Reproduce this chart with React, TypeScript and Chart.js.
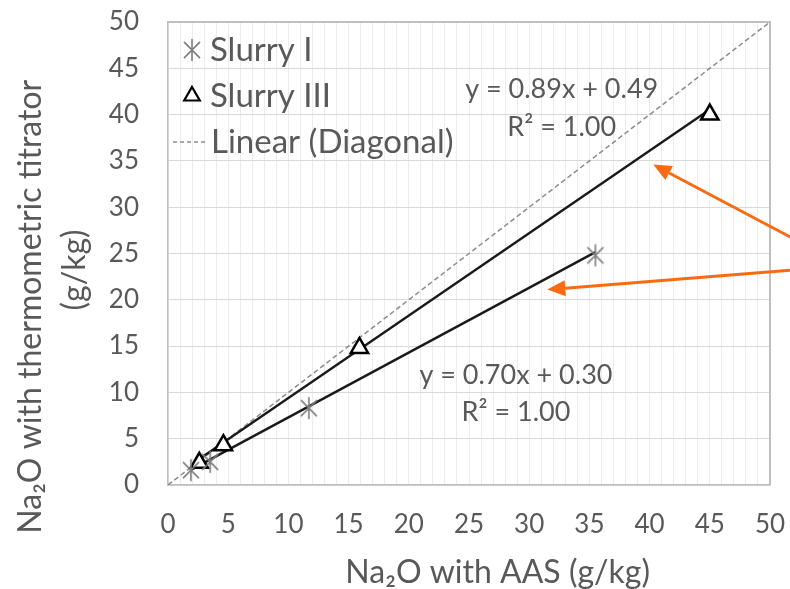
import React, { useEffect, useRef } from "react";
import { Chart, registerables } from "chart.js";

Chart.register(...registerables);

// ---------- data ----------
const slurry1X = [1.9, 3.5, 11.7, 35.5];
const slurry1Y = [1.6, 2.5, 8.3, 24.8];
const slurry3X = [2.6, 4.6, 15.9, 45.0];
const slurry3Y = [2.4, 4.3, 14.8, 40.0];
const diagonalX = [0, 50];
const diagonalY = [0, 50];
const fitSlopes = [0.7, 0.89]; // Slurry I, Slurry III
const fitIntercepts = [0.3, 0.49];
const seriesLabels = ["Slurry I", "Slurry III", "Linear (Diagonal)"];
const equationTexts = ["y = 0.70x + 0.30", "y = 0.89x + 0.49"];
const r2Texts = ["R² = 1.00", "R² = 1.00"];
const xTickLabels = ["0", "5", "10", "15", "20", "25", "30", "35", "40", "45", "50"];
const yTickLabels = ["0", "5", "10", "15", "20", "25", "30", "35", "40", "45", "50"];
const xTitle = "       Na₂O with AAS (g/kg)";
const yTitle = ["Na₂O with thermometric titrator             ", "(g/kg)    "];

// annotation anchors (data units)
const equationAnchorX = [28.9, 32.7];
const equationAnchorY = [11.9, 42.7];
const r2AnchorY = [7.9, 38.6];
const arrowTipX = [40.3, 31.5];
const arrowTipY = [34.6, 21.1];
const arrowTailX = [51.8, 51.8];
const arrowTailY = [26.7, 23.2];

const TEXT = "#595959";
const FONT = "Lato";

function makeAsterisk(size: number, color: string) {
  const c = document.createElement("canvas");
  c.width = size;
  c.height = size;
  const g = c.getContext("2d")!;
  const m = size / 2;
  const r = size / 2 - 1.5;
  g.strokeStyle = color;
  g.lineWidth = 1.6;
  g.lineCap = "round";
  g.beginPath();
  g.moveTo(m, m - r);
  g.lineTo(m, m + r);
  const d = r * 0.72;
  g.moveTo(m - d, m - d);
  g.lineTo(m + d, m + d);
  g.moveTo(m + d, m - d);
  g.lineTo(m - d, m + d);
  g.stroke();
  return c;
}

function fitLine(xs: number[], slope: number, intercept: number) {
  const lo = Math.min(...xs);
  const hi = Math.max(...xs);
  return [
    { x: lo, y: slope * lo + intercept },
    { x: hi, y: slope * hi + intercept },
  ];
}

export default function App() {
  const ref = useRef<HTMLCanvasElement | null>(null);

  useEffect(() => {
    if (!ref.current) return;
    const asterisk = makeAsterisk(24, "#7f7f7f");

    const boxPlugin = {
      id: "box",
      afterDatasetsDraw(chart: any) {
        const { ctx, chartArea: a } = chart;
        ctx.save();
        ctx.strokeStyle = "#bfbfbf";
        ctx.lineWidth = 2;
        ctx.beginPath();
        ctx.moveTo(a.left, a.top);
        ctx.lineTo(a.right, a.top);
        ctx.lineTo(a.right, a.bottom);
        ctx.stroke();
        ctx.restore();
      },
    };

    const annotPlugin = {
      id: "annot",
      afterDraw(chart: any) {
        const { ctx, chartArea: a } = chart;
        const xs = chart.scales.x;
        const ys = chart.scales.y;
        ctx.save();
        // equations
        ctx.fillStyle = TEXT;
        ctx.font = `27px ${FONT}`;
        ctx.textAlign = "center";
        ctx.textBaseline = "middle";
        for (let i = 0; i < equationTexts.length; i++) {
          const px = xs.getPixelForValue(equationAnchorX[i]);
          ctx.fillText(equationTexts[i], px, ys.getPixelForValue(equationAnchorY[i]));
          ctx.fillText(r2Texts[i], px, ys.getPixelForValue(r2AnchorY[i]));
        }
        // legend
        const mx = a.left + 24;
        const tx = a.left + 42;
        const rows = [a.top + 28, a.top + 74, a.top + 120];
        ctx.font = `33px ${FONT}`;
        ctx.textAlign = "left";
        ctx.drawImage(asterisk, mx - 12, rows[0] - 12);
        ctx.fillText(seriesLabels[0], tx, rows[0]);
        ctx.beginPath();
        const r = 9;
        ctx.moveTo(mx, rows[1] - r);
        ctx.lineTo(mx + r * 0.866, rows[1] + r * 0.5);
        ctx.lineTo(mx - r * 0.866, rows[1] + r * 0.5);
        ctx.closePath();
        ctx.fillStyle = "#fff";
        ctx.fill();
        ctx.strokeStyle = "#000";
        ctx.lineWidth = 2.2;
        ctx.stroke();
        ctx.fillStyle = TEXT;
        ctx.fillText(seriesLabels[1], tx, rows[1]);
        ctx.beginPath();
        ctx.setLineDash([4, 3]);
        ctx.strokeStyle = "#8c8c8c";
        ctx.lineWidth = 1.5;
        ctx.moveTo(mx - 19, rows[2]);
        ctx.lineTo(mx + 15, rows[2]);
        ctx.stroke();
        ctx.setLineDash([]);
        ctx.fillText(seriesLabels[2], tx + 1, rows[2]);
        // arrows
        ctx.strokeStyle = "#f96b12";
        ctx.fillStyle = "#f96b12";
        ctx.lineWidth = 3;
        for (let i = 0; i < arrowTipX.length; i++) {
          const x1 = xs.getPixelForValue(arrowTailX[i]);
          const y1 = ys.getPixelForValue(arrowTailY[i]);
          const x2 = xs.getPixelForValue(arrowTipX[i]);
          const y2 = ys.getPixelForValue(arrowTipY[i]);
          const ang = Math.atan2(y2 - y1, x2 - x1);
          const hl = 18;
          const hw = 8;
          const bx = x2 - Math.cos(ang) * hl;
          const by = y2 - Math.sin(ang) * hl;
          ctx.beginPath();
          ctx.moveTo(x1, y1);
          ctx.lineTo(bx, by);
          ctx.stroke();
          ctx.beginPath();
          ctx.moveTo(x2, y2);
          ctx.lineTo(bx + Math.sin(ang) * hw, by - Math.cos(ang) * hw);
          ctx.lineTo(bx - Math.sin(ang) * hw, by + Math.cos(ang) * hw);
          ctx.closePath();
          ctx.fill();
        }
        ctx.restore();
      },
    };

    const chart = new Chart(ref.current, {
      type: "scatter",
      data: {
        datasets: [
          {
            label: seriesLabels[0],
            data: slurry1X.map((x, i) => ({ x, y: slurry1Y[i] })),
            pointStyle: asterisk,
            pointRadius: 12,
            order: 0,
          },
          {
            label: seriesLabels[1],
            data: slurry3X.map((x, i) => ({ x, y: slurry3Y[i] })),
            pointStyle: "triangle",
            pointRadius: 10,
            borderWidth: 2.5,
            borderColor: "#000",
            backgroundColor: "#fff",
            order: 0,
          },
          {
            type: "line",
            label: "fit I",
            data: fitLine(slurry1X, fitSlopes[0], fitIntercepts[0]),
            borderColor: "#1a1a1a",
            borderWidth: 2.4,
            pointRadius: 0,
            order: 1,
          },
          {
            type: "line",
            label: "fit III",
            data: fitLine(slurry3X, fitSlopes[1], fitIntercepts[1]),
            borderColor: "#1a1a1a",
            borderWidth: 2.4,
            pointRadius: 0,
            order: 1,
          },
          {
            type: "line",
            label: seriesLabels[2],
            data: diagonalX.map((x, i) => ({ x, y: diagonalY[i] })),
            borderColor: "#8c8c8c",
            borderWidth: 1.5,
            borderDash: [5, 3],
            pointRadius: 0,
            order: 2,
          },
        ] as any,
      },
      options: {
        responsive: false,
        animation: false,
        devicePixelRatio: 1,
        layout: { padding: { top: 22, right: 20, left: 0, bottom: 0 } },
        plugins: { legend: { display: false }, tooltip: { enabled: false } },
        scales: {
          x: {
            type: "linear",
            min: 0,
            max: 50,
            afterBuildTicks: (axis: any) => {
              const t = [];
              for (let v = 0; v <= 50; v++) t.push({ value: v });
              axis.ticks = t;
            },
            afterFit: (axis: any) => {
              axis.height = 104;
              axis.paddingLeft = 0;
              axis.paddingRight = 0;
            },
            ticks: {
              autoSkip: false,
              maxRotation: 0,
              padding: 24,
              color: TEXT,
              font: { family: FONT, size: 26 },
              callback: (v: any) => (v % 5 === 0 ? xTickLabels[v / 5] : ""),
            },
            grid: { color: "#ececec", lineWidth: 1, drawTicks: false },
            border: { display: true, color: "#bfbfbf", width: 1.5 },
            title: {
              display: true,
              text: xTitle,
              color: TEXT,
              font: { family: FONT, size: 32, lineHeight: 1 },
              padding: { top: 0, bottom: 0 },
            },
          },
          y: {
            type: "linear",
            min: 0,
            max: 50,
            afterFit: (axis: any) => {
              axis.width = 168;
              axis.paddingTop = 0;
              axis.paddingBottom = 0;
            },
            ticks: {
              stepSize: 5,
              padding: 29,
              color: TEXT,
              font: { family: FONT, size: 26 },
              callback: (v: any, i: number) => yTickLabels[i],
            },
            grid: { color: "#d9d9d9", lineWidth: 1, drawTicks: false },
            border: { display: true, color: "#bfbfbf", width: 1.5 },
            title: {
              display: true,
              text: yTitle,
              color: TEXT,
              font: { family: FONT, size: 32, lineHeight: 1.375 },
              padding: { top: 9, bottom: 0 },
            },
          },
        },
      },
      plugins: [boxPlugin, annotPlugin],
    } as any);
    return () => chart.destroy();
  }, []);

  return (
    <div style={{ position: "fixed", left: 0, top: 0, width: 790, height: 589, background: "#fff" }}>
      <canvas ref={ref} width={790} height={589} style={{ width: 790, height: 589, display: "block" }} />
    </div>
  );
}
